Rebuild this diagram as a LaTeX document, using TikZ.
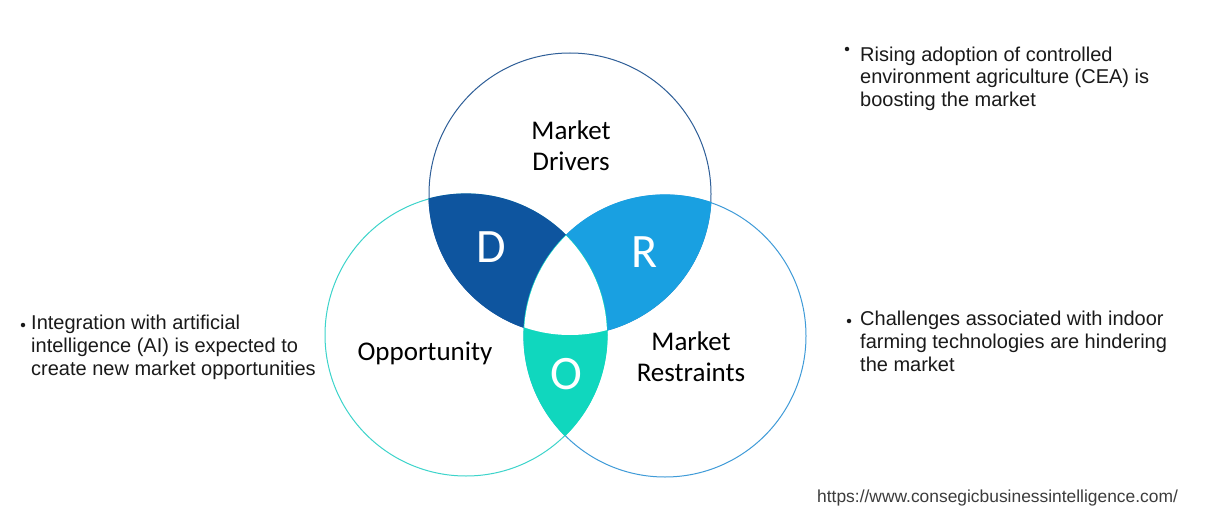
\documentclass[tikz,border=0pt]{standalone}
\usepackage{fontspec}
\setmainfont{Liberation Sans}
\newfontfamily\carlito{Carlito}
\definecolor{dcol}{HTML}{0E559F}
\definecolor{rcol}{HTML}{19A0E1}
\definecolor{ocol}{HTML}{10D7BE}
\definecolor{topline}{HTML}{2F5F98}
\definecolor{leftline}{HTML}{3DD4CB}
\definecolor{rightline}{HTML}{3F9BD8}
\definecolor{txt}{HTML}{1A1A1A}
\tikzset{
  lbl/.style={font=\carlito\fontsize{27}{31}\selectfont, text=black, align=center, inner sep=0pt},
  letter/.style={font=\carlito\fontsize{48}{50}\selectfont, text=white, inner sep=0pt},
  bullettext/.style={font=\fontsize{20}{22.7}\selectfont, text=txt, align=left, anchor=north west, inner sep=0pt},
  bulletdot/.style={circle, fill=txt, inner sep=0pt, minimum size=4.5pt},
}
\begin{document}
\begin{tikzpicture}[x=1pt,y=-1pt]
\path[use as bounding box, fill=white] (0,0) rectangle (1221,532);
\coordinate (ct) at (570,194);
\coordinate (cl) at (466,335);
\coordinate (cr) at (665,336);
% outlines
\draw[topline, line width=1pt] (ct) circle[radius=141pt];
\draw[leftline, line width=1pt] (cl) circle[radius=141pt];
\draw[rightline, line width=1pt] (cr) circle[radius=141pt];
% fills
\begin{scope}
  \clip (ct) circle[radius=141.6pt];
  \fill[dcol] (cl) circle[radius=141.6pt];
\end{scope}
\begin{scope}
  \clip (ct) circle[radius=141.6pt];
  \fill[rcol] (cr) circle[radius=141.6pt];
\end{scope}
\begin{scope}
  \clip (cl) circle[radius=141.6pt];
  \fill[ocol] (cr) circle[radius=141.6pt];
\end{scope}
\begin{scope}
  \clip (ct) circle[radius=141pt];
  \clip (cl) circle[radius=141pt];
  \fill[white] (cr) circle[radius=141pt];
\end{scope}
% labels
\node[lbl] (md) at (571,146) {Market\\Drivers};
\node[lbl] (op) at (425,353) {Opportunity};
\node[lbl] (mr) at (691,357) {Market\\Restraints};
\node[letter] (ld) at (491,247) {D};
\node[letter] (lr) at (645,252) {R};
\node[letter] (lo) at (566,374) {O};
% bullet texts
\node[bulletdot] (b1) at (847,49) {};
\node[bullettext] (t1) at (860,46.5) {Rising adoption of controlled\\environment agriculture (CEA) is\\boosting the market};
\node[bulletdot] (b2) at (23,325) {};
\node[bullettext] (t2) at (31,315) {Integration with artificial\\intelligence (AI) is expected to\\create new market opportunities};
\node[bulletdot] (b3) at (849,321) {};
\node[bullettext] (t3) at (860,311) {Challenges associated with indoor\\farming technologies are hindering\\the market};
\node[font=\fontsize{17.4}{19}\selectfont, text=txt!85, anchor=west, inner sep=0pt] (url) at (817,498) {https://www.consegicbusinessintelligence.com/};
\end{tikzpicture}
\end{document}
